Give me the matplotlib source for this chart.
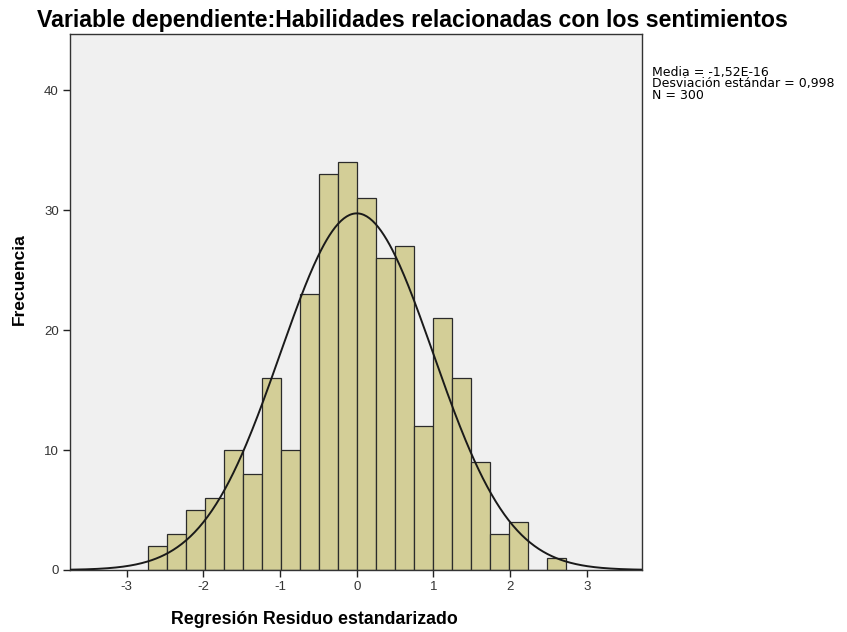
import numpy as np
import matplotlib.pyplot as plt

plt.rcParams['font.family'] = ['Liberation Sans', 'DejaVu Sans']
plt.rcParams['axes.unicode_minus'] = False

# histogram of standardized residuals (bin width ~0.248, first edge -2.73)
bin_start = -2.728
bin_width = 0.248
counts = [2, 3, 5, 6, 10, 8, 16, 10, 23, 33, 34,
          31, 26, 27, 12, 21, 16, 9, 3, 4, 0, 1]
media = -1.52e-16
desv = 0.998
n = 300

edges = bin_start + bin_width * np.arange(len(counts))

fig = plt.figure(figsize=(8.47, 6.32), dpi=100)
ax = fig.add_axes([70 / 847, 62 / 632, 572 / 847, 536 / 632])
ax.set_facecolor('#F0F0F0')

ax.bar(edges, counts, width=bin_width, align='edge', color='#D3CE97',
       edgecolor='#2b2b2b', linewidth=0.9, zorder=2)

# normal curve
xs = np.linspace(-3.74, 3.72, 400)
ys = n * bin_width / (desv * np.sqrt(2 * np.pi)) * np.exp(-0.5 * ((xs - media) / desv) ** 2)
ax.plot(xs, ys, color='#1a1a1a', linewidth=1.4, zorder=3)

ax.set_xlim(-3.74, 3.72)
ax.set_ylim(0, 44.7)
ax.set_xticks([-3, -2, -1, 0, 1, 2, 3])
ax.set_yticks([0, 10, 20, 30, 40])
ax.tick_params(direction='out', length=5, width=1, colors='#222222', labelsize=9.5, pad=3)
ax.tick_params(labelcolor='#333333')
for s in ax.spines.values():
    s.set_color('#333333')
    s.set_linewidth(1)

fig.text(412 / 847, 1 - 27 / 632, 'Variable dependiente:Habilidades relacionadas con los sentimientos',
         ha='center', va='baseline', fontsize=16.7, fontweight='bold')
fig.text(314 / 847, 1 - 620 / 632, 'Regresión Residuo estandarizado',
         ha='center', va='center', fontsize=12.8, fontweight='bold')
fig.text(19.5 / 847, 1 - 279 / 632, 'Frecuencia', rotation=90,
         ha='center', va='center', fontsize=12.5, fontweight='bold')

fig.text(652 / 847, 1 - 66 / 632,
         'Media = -1,52E-16\nDesviación estándar = 0,998\nN = 300',
         ha='left', va='top', fontsize=9, linespacing=0.85, family='DejaVu Sans')

fig.savefig('out.png', dpi=100)
